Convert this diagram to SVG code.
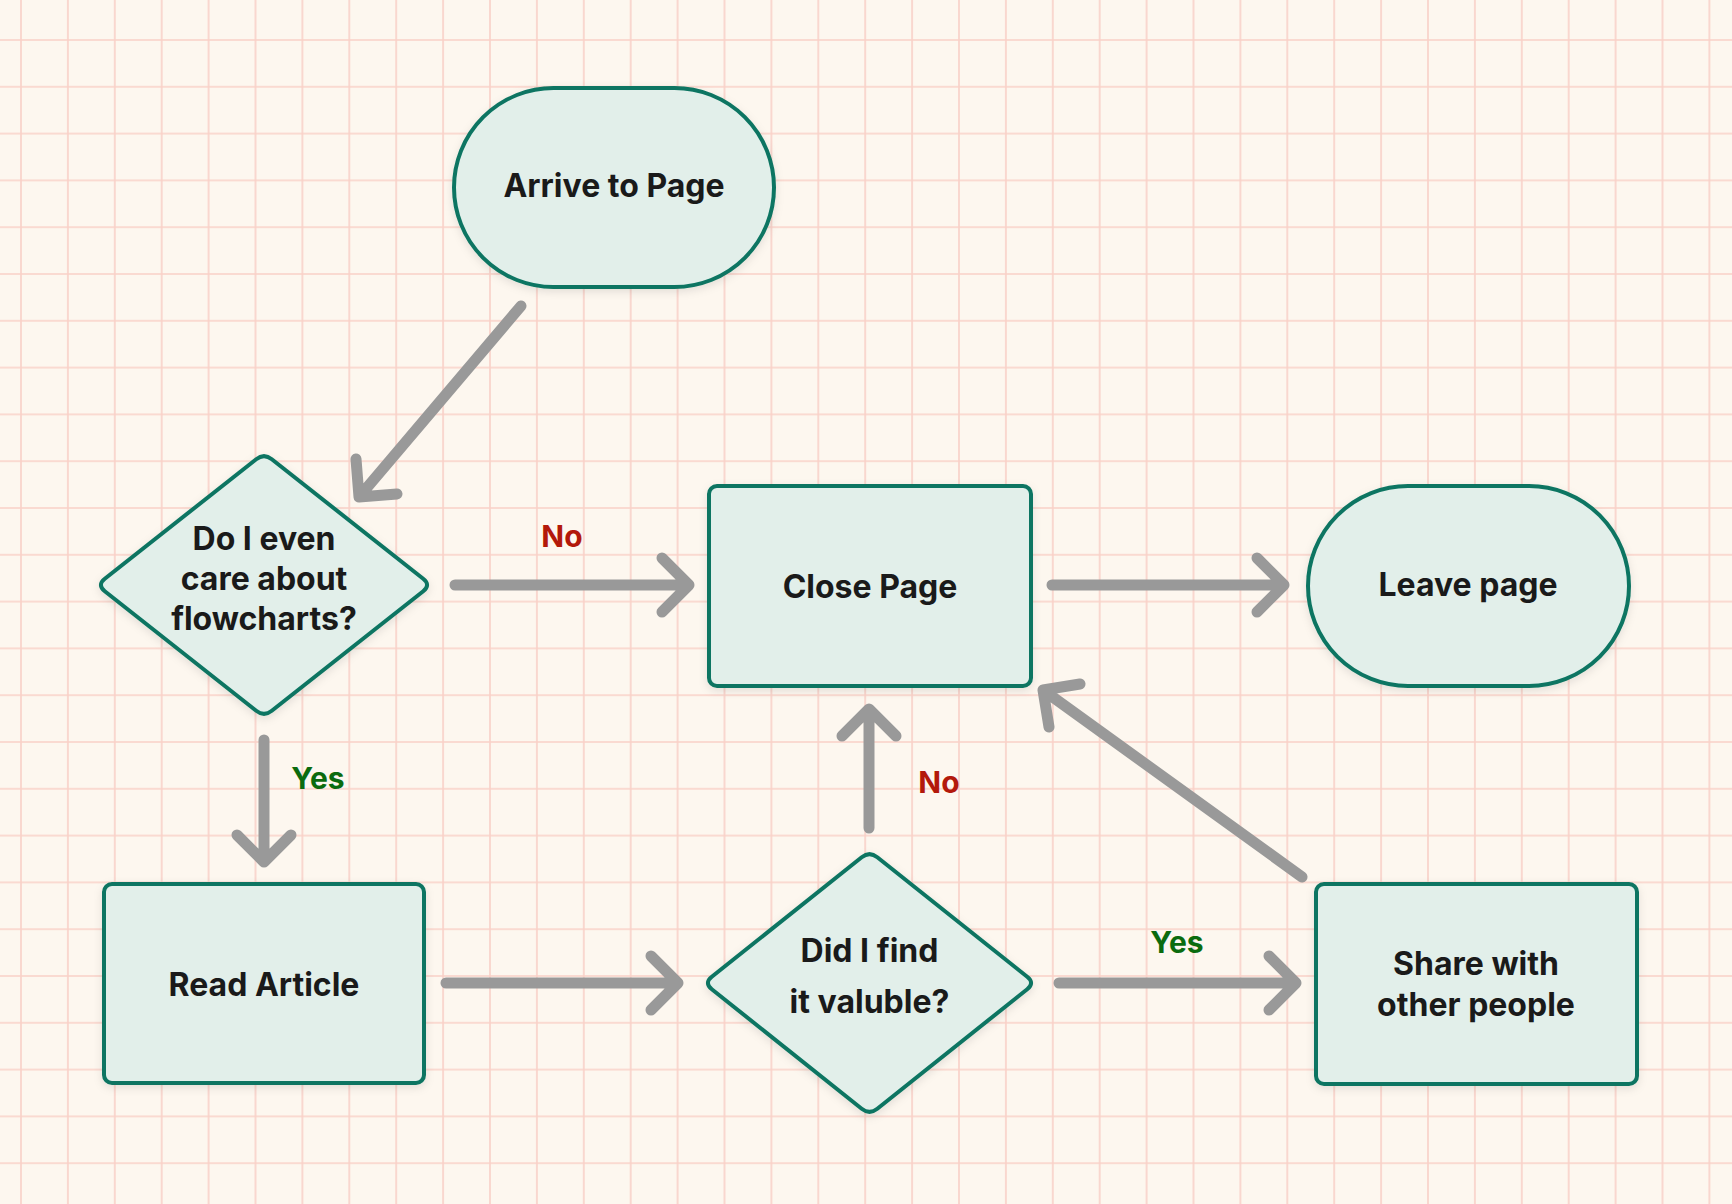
<svg xmlns="http://www.w3.org/2000/svg" width="1732" height="1204" viewBox="0 0 1732 1204">
<defs>
<pattern id="grid" patternUnits="userSpaceOnUse" x="20" y="39" width="46.9" height="46.8">
<path d="M1,0 V46.8 M0,1 H46.9" fill="none" stroke="#f8c9c0" stroke-width="1.6" stroke-opacity="0.85"/>
</pattern>
<filter id="shadow" x="-10%" y="-10%" width="120%" height="130%">
<feDropShadow dx="0" dy="3" stdDeviation="4" flood-color="#000" flood-opacity="0.10"/>
</filter>
<style>
.node{fill:#e2efea;stroke:#0c7562;stroke-width:4;filter:url(#shadow)}
.label{font-family:Inter,"Liberation Sans",sans-serif;font-weight:700;font-size:32px;fill:#1a1a1a;text-anchor:middle}
.edge{fill:none;stroke:#999999;stroke-width:11;stroke-linecap:round;stroke-linejoin:round}
.no{font-family:Inter,"Liberation Sans",sans-serif;font-weight:700;font-size:30px;fill:#b3190b;text-anchor:middle}
.yes{font-family:Inter,"Liberation Sans",sans-serif;font-weight:700;font-size:30px;fill:#0b6b0e;text-anchor:middle}
</style>
</defs>
<rect width="1732" height="1204" fill="#fdf7ef"/>
<rect width="1732" height="1204" fill="url(#grid)"/>

<g id="connectors">
<path class="edge" d="M521,306 L359,497 M356,459 L359,497 L397,494"/>
<path class="edge" d="M455,585 L689,585 M662,558 L689,585 L662,612"/>
<path class="edge" d="M1052,585 L1284,585 M1257,558 L1284,585 L1257,612"/>
<path class="edge" d="M264,740 L264,862 M237,835 L264,862 L291,835"/>
<path class="edge" d="M446,983 L678,983 M651,956 L678,983 L651,1010"/>
<path class="edge" d="M869,828 L869,709 M842,736 L869,709 L896,736"/>
<path class="edge" d="M1059,983 L1296,983 M1269,956 L1296,983 L1269,1010"/>
<path class="edge" d="M1302,877 L1043,690 M1049,727 L1043,690 L1080,684"/>
<text class="no" x="562" y="547">No</text>
<text class="yes" x="318" y="789">Yes</text>
<text class="no" x="939" y="793">No</text>
<text class="yes" x="1177" y="953">Yes</text>
</g>

<g id="arrive">
<rect class="node" x="454" y="88" width="320" height="199" rx="99.5"/>
<text class="label" x="614" y="197">Arrive to Page</text>
</g>

<g id="care">
<path class="node" d="M256.2,459.2 Q264,453 271.8,459.2 L423.2,578.8 Q431,585 423.2,591.2 L271.8,710.8 Q264,717 256.2,710.8 L104.8,591.2 Q97,585 104.8,578.8 Z"/>
<text class="label" x="264" y="550">Do I even</text>
<text class="label" x="264" y="590">care about</text>
<text class="label" x="264" y="630">flowcharts?</text>
</g>

<g id="close">
<rect class="node" x="709" y="486" width="322" height="200" rx="8"/>
<text class="label" x="870" y="598">Close Page</text>
</g>

<g id="leave">
<rect class="node" x="1308" y="486" width="321" height="200" rx="100"/>
<text class="label" x="1468" y="596">Leave page</text>
</g>

<g id="read">
<rect class="node" x="104" y="884" width="320" height="199" rx="8"/>
<text class="label" x="264" y="996">Read Article</text>
</g>

<g id="valuable">
<path class="node" d="M861.7,857.2 Q869.5,851 877.3,857.2 L1027.2,976.8 Q1035,983 1027.2,989.2 L877.3,1108.8 Q869.5,1115 861.7,1108.8 L711.8,989.2 Q704,983 711.8,976.8 Z"/>
<text class="label" x="869.5" y="962">Did I find</text>
<text class="label" x="869.5" y="1013">it valuble?</text>
</g>

<g id="share">
<rect class="node" x="1316" y="884" width="321" height="200" rx="8"/>
<text class="label" x="1476" y="975">Share with</text>
<text class="label" x="1476" y="1016">other people</text>
</g>
</svg>
